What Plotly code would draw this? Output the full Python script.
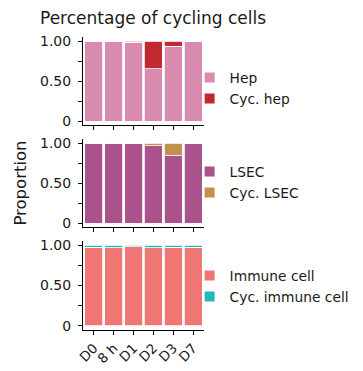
import plotly.graph_objects as go

timepoints = ["D0", "8 h", "D1", "D2", "D3", "D7"]

hep = [1.0, 1.0, 0.985, 0.655, 0.935, 0.997]
cyc_hep = [0.0, 0.0, 0.015, 0.345, 0.065, 0.003]

lsec = [1.0, 0.997, 0.998, 0.972, 0.845, 0.997]
cyc_lsec = [0.0, 0.003, 0.002, 0.028, 0.155, 0.003]

immune = [0.972, 0.965, 0.98, 0.968, 0.972, 0.973]
cyc_immune = [0.028, 0.035, 0.02, 0.032, 0.028, 0.027]

panels = [
    ("Hep", hep, "#D88BAF", "Cyc. hep", cyc_hep, "#C0292F"),
    ("LSEC", lsec, "#A9528B", "Cyc. LSEC", cyc_lsec, "#C4904E"),
    ("Immune cell", immune, "#EF7672", "Cyc. immune cell", cyc_immune, "#22B8B8"),
]

FONT = "DejaVu Sans"
OFF = 8  # page body margin
W, H = 363 - OFF, 371 - OFF
# screen-pixel positions of the plotting area
SL, SR, ST, SB = 82.5, 204.5, 37, 330
L, T = SL - OFF, ST - OFF
R, B = W - (SR - OFF), H - (SB - OFF)
ph = H - T - B
pw = W - L - R

def py(s):
    return (H - B - (s - OFF)) / ph

def px(s):
    return ((s - OFF) - L) / pw

domains = [(py(125), py(37)), (py(227.3), py(139.3)), (py(330), py(241))]
legend_centers = [88, 182, 286]

fig = go.Figure()
layout = dict(
    width=W, height=H, margin=dict(l=L, r=R, t=T, b=B, autoexpand=False),
    paper_bgcolor="white", plot_bgcolor="white",
    barmode="stack", bargap=0.1,
    font=dict(family=FONT, size=13, color="#1a1a1a"),
    showlegend=True,
)

for i, (n1, v1, c1, n2, v2, c2) in enumerate(panels):
    k = "" if i == 0 else str(i + 1)
    xa, ya = "x" + k, "y" + k
    lg = "legend" + k
    fig.add_trace(go.Bar(x=timepoints, y=v1, marker=dict(color=c1, line=dict(color="white", width=0.8)),
                         xaxis=xa, yaxis=ya, showlegend=False, name=n1))
    fig.add_trace(go.Bar(x=timepoints, y=v2, marker=dict(color=c2, line=dict(color="white", width=0.8)),
                         xaxis=xa, yaxis=ya, showlegend=False, name=n2))
    for j, (n, c) in enumerate(((n1, c1), (n2, c2))):
        fig.add_trace(go.Scatter(x=[None], y=[None], mode="markers", name=n,
                                 marker=dict(symbol="square", size=10, color=c),
                                 xaxis=xa, yaxis=ya, legend=lg, legendgroup=f"g{i}{j}"))
    layout["xaxis" + k] = dict(
        domain=[0, 1], anchor=ya, range=[-0.55, 5.55], showline=True, linecolor="black", linewidth=1,
        ticks="outside", ticklen=4, tickcolor="black", showgrid=False, zeroline=False,
        showticklabels=(i == 2), tickangle=-45, tickfont=dict(size=13.5, color="#1a1a1a"),
        type="category",
    )
    layout["yaxis" + k] = dict(
        domain=list(domains[i]), anchor=xa, range=[-0.05, 1.05], showline=True, linecolor="black",
        linewidth=1, ticks="outside", ticklen=4, tickcolor="black", showgrid=False, zeroline=False,
        tickvals=[0, 0.25, 0.5, 0.75, 1.0], ticktext=["0", "", "0.50", "", "1.00"],
        tickfont=dict(size=14, color="#1a1a1a"), ticklabelstandoff=4,
    )
    layout[lg] = dict(
        x=px(190), xref="paper", xanchor="left",
        y=py(legend_centers[i]), yanchor="middle", yref="paper",
        font=dict(size=13.8, family=FONT, color="#1a1a1a"), bgcolor="rgba(0,0,0,0)",
        tracegroupgap=0, itemsizing="trace", traceorder="normal",
    )

fig.update_layout(**layout)
fig.add_annotation(text="Percentage of cycling cells", xref="paper", yref="paper",
                   x=px(37), y=py(18), xanchor="left", yanchor="middle",
                   showarrow=False, font=dict(size=17, family=FONT, color="#1a1a1a"))
fig.add_annotation(text="Proportion", xref="paper", yref="paper",
                   x=px(OFF), y=py(183), xanchor="left", yanchor="middle", borderpad=0,
                   textangle=-90, showarrow=False, font=dict(size=16.5, family=FONT, color="#1a1a1a"))
fig.write_html("out.html")
